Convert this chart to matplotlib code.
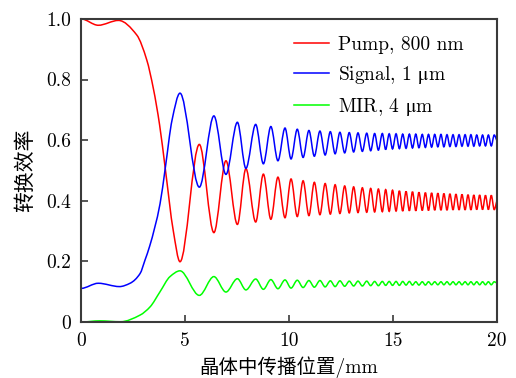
import numpy as np
import matplotlib
matplotlib.use("Agg")
import matplotlib.pyplot as plt
from matplotlib.path import Path
from matplotlib.patches import PathPatch
from matplotlib.lines import Line2D

plt.rcParams['font.family'] = ['cmr10', 'DejaVu Serif', 'Noto Sans CJK SC']
plt.rcParams['mathtext.fontset'] = 'stix'

# ---- data (extrema and shape points) ----
pump_early_x = [0, 0.83, 1.8, 2.68, 3.16, 3.48, 3.78, 4.05, 4.44]
pump_early_y = [1.0, 0.979, 0.995, 0.947, 0.865, 0.77, 0.65, 0.507, 0.30]
signal_early_x = [0, 0.83, 1.85, 2.36, 2.84, 3.08, 3.3, 3.8, 4.05, 4.38]
signal_early_y = [0.111, 0.128, 0.117, 0.128, 0.16, 0.205, 0.25, 0.39, 0.507, 0.667]
mir_early_x = [0, 0.9, 1.9, 2.84, 3.32, 3.8, 4.28]
mir_early_y = [0.0, 0.004, 0.001, 0.023, 0.05, 0.10, 0.15]

# positions of signal maxima (= pump minima = MIR maxima)
peak_x = [4.76, 6.39, 7.52, 8.40, 9.13, 9.81, 10.40, 10.96, 11.49, 11.99,
          12.45, 12.90, 13.32, 13.74, 14.12, 14.49, 14.82, 15.15, 15.47, 15.79,
          16.10, 16.41, 16.71, 17.01, 17.31, 17.60, 17.89, 18.18, 18.47, 18.75,
          19.03, 19.31, 19.59, 19.87]
# positions of signal minima (= pump maxima = MIR minima)
trough_x = [5.69, 6.97, 7.93, 8.77, 9.47, 10.10, 10.68, 11.22, 11.74, 12.22,
            12.68, 13.11, 13.53, 13.93, 14.30, 14.65, 14.98, 15.31, 15.63, 15.94,
            16.25, 16.56, 16.86, 17.16, 17.45, 17.74, 18.03, 18.32, 18.61, 18.89,
            19.17, 19.45, 19.73]

signal_at_peak = [0.755, 0.680, 0.659, 0.652, 0.645, 0.640, 0.636, 0.632, 0.630, 0.628,
                  0.626, 0.625, 0.624, 0.623, 0.622, 0.622, 0.621, 0.621, 0.620, 0.620,
                  0.620, 0.619, 0.619, 0.619, 0.619, 0.618, 0.618, 0.618, 0.618, 0.618,
                  0.617, 0.617, 0.617, 0.617]
signal_at_trough = [0.445, 0.487, 0.507, 0.522, 0.532, 0.538, 0.543, 0.547, 0.551, 0.555,
                    0.558, 0.561, 0.563, 0.565, 0.567, 0.569, 0.571, 0.572, 0.573, 0.574,
                    0.575, 0.576, 0.577, 0.578, 0.578, 0.579, 0.579, 0.580, 0.580, 0.580,
                    0.581, 0.581, 0.581]
pump_at_peak = [0.199, 0.295, 0.322, 0.330, 0.339, 0.344, 0.348, 0.351, 0.354, 0.356,
                0.358, 0.360, 0.361, 0.362, 0.363, 0.364, 0.365, 0.366, 0.366, 0.367,
                0.367, 0.368, 0.368, 0.369, 0.369, 0.369, 0.370, 0.370, 0.370, 0.370,
                0.371, 0.371, 0.371, 0.371]
pump_at_trough = [0.586, 0.532, 0.506, 0.488, 0.478, 0.472, 0.466, 0.461, 0.457, 0.453,
                  0.449, 0.446, 0.443, 0.441, 0.439, 0.437, 0.435, 0.433, 0.431, 0.430,
                  0.428, 0.427, 0.426, 0.425, 0.424, 0.423, 0.422, 0.421, 0.420, 0.419,
                  0.419, 0.418, 0.418]
mir_at_peak = [0.169, 0.150, 0.143, 0.142, 0.140, 0.139, 0.138, 0.137, 0.137, 0.136,
               0.136, 0.135, 0.135, 0.135, 0.134, 0.134, 0.134, 0.134, 0.134, 0.134,
               0.133, 0.133, 0.133, 0.133, 0.133, 0.133, 0.133, 0.133, 0.133, 0.133,
               0.133, 0.133, 0.133, 0.133]
mir_at_trough = [0.088, 0.099, 0.106, 0.108, 0.110, 0.112, 0.114, 0.115, 0.116, 0.117,
                 0.118, 0.119, 0.119, 0.120, 0.120, 0.121, 0.121, 0.121, 0.122, 0.122,
                 0.122, 0.122, 0.123, 0.123, 0.123, 0.123, 0.123, 0.123, 0.123, 0.123,
                 0.123, 0.123, 0.123]

end_x = 20.0
pump_end = 0.40
signal_end = 0.598
mir_end = 0.128

labels = ['Pump, 800 nm', r'Signal, 1 $\mathrm{\mu}$m', r'MIR, 4 $\mathrm{\mu}$m']
colors = ['#ff0000', '#0000ff', '#00ff00']
x_ticks = [0, 5, 10, 15, 20]
y_ticks = [0, 0.2, 0.4, 0.6, 0.8, 1.0]
y_tick_labels = ['0', '0.2', '0.4', '0.6', '0.8', '1.0']


def assemble(ex, ey, a_vals, b_vals, last):
    xs = list(ex) + list(peak_x) + list(trough_x) + [end_x]
    ys = list(ey) + list(a_vals) + list(b_vals) + [last]
    order = np.argsort(xs)
    return np.asarray(xs)[order], np.asarray(ys)[order]


def smooth_path(x, y):
    """Monotone cubic (Fritsch-Carlson) through the points, as a Bezier path."""
    h = np.diff(x)
    d = np.diff(y) / h
    n = len(x)
    m = np.zeros(n)
    for k in range(1, n - 1):
        if d[k - 1] * d[k] > 0:
            w1 = 2 * h[k] + h[k - 1]
            w2 = h[k] + 2 * h[k - 1]
            m[k] = (w1 + w2) / (w1 / d[k - 1] + w2 / d[k])
    m[-1] = d[-1]
    verts = [(x[0], y[0])]
    codes = [Path.MOVETO]
    for k in range(n - 1):
        verts += [(x[k] + h[k] / 3, y[k] + m[k] * h[k] / 3),
                  (x[k + 1] - h[k] / 3, y[k + 1] - m[k + 1] * h[k] / 3),
                  (x[k + 1], y[k + 1])]
        codes += [Path.CURVE4] * 3
    return Path(verts, codes)


series = [
    assemble(pump_early_x, pump_early_y, pump_at_peak, pump_at_trough, pump_end),
    assemble(signal_early_x, signal_early_y, signal_at_peak, signal_at_trough, signal_end),
    assemble(mir_early_x, mir_early_y, mir_at_peak, mir_at_trough, mir_end),
]

fig = plt.figure(figsize=(5.16, 3.78), dpi=100)
ax = fig.add_axes([0.157, 0.148, 0.806, 0.802])

for (xs, ys), c in zip(series, colors):
    ax.add_patch(PathPatch(smooth_path(xs, ys), fill=False, edgecolor=c, lw=1.1))

ax.set_xlim(0, 20)
ax.set_ylim(0, 1.0)
ax.set_xticks(x_ticks)
ax.set_xticklabels([str(t) for t in x_ticks])
ax.set_yticks(y_ticks)
ax.set_yticklabels(y_tick_labels)

for s in ax.spines.values():
    s.set_color('#3a3a3a')
    s.set_linewidth(1.5)
ax.tick_params(direction='in', length=5, width=1.2, color='#3a3a3a',
               labelsize=14, pad=7)

ax.set_xlabel('晶体中传播位置/mm', fontsize=14, labelpad=5)
ax.set_ylabel('转换效率', fontsize=15, labelpad=8)

handles = [Line2D([], [], color=c, lw=1.1) for c in colors]
ax.legend(handles, labels, loc='upper left', bbox_to_anchor=(0.512, 0.945),
          frameon=False, fontsize=14, handlelength=1.8, labelspacing=0.52,
          handletextpad=0.45, borderaxespad=0.0, borderpad=0.0)

fig.savefig('out.png', dpi=100)
